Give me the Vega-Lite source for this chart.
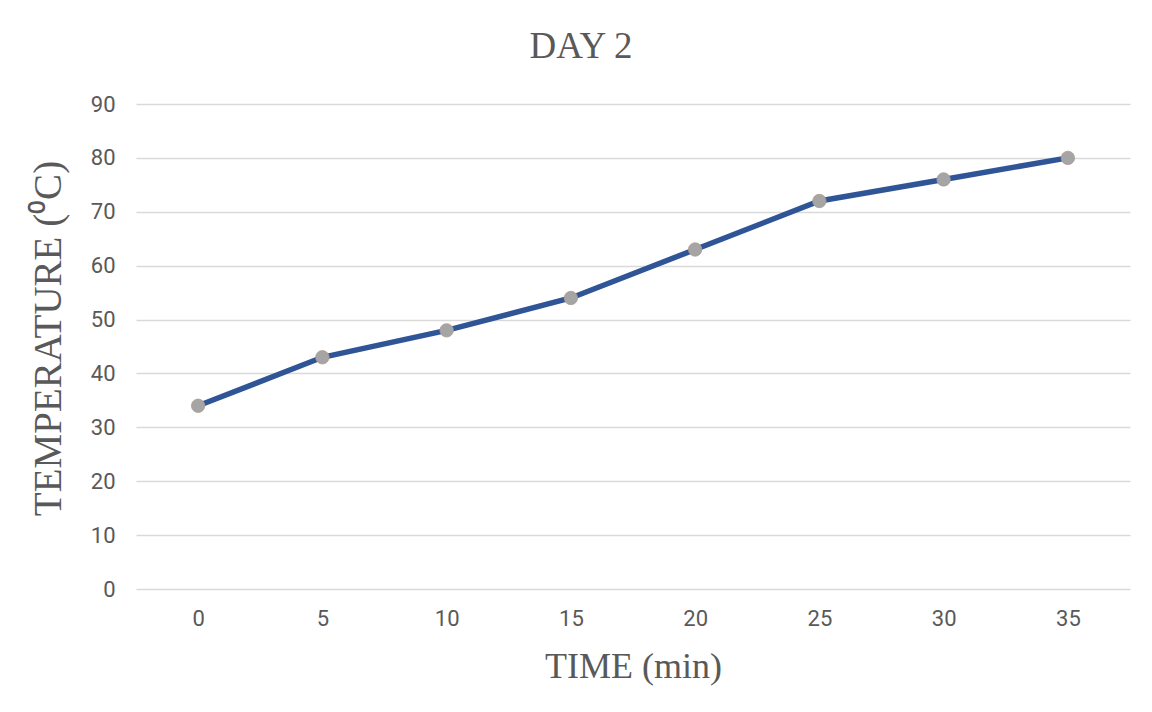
{
  "$schema": "https://vega.github.io/schema/vega-lite/v6.json",
  "autosize": {"type": "none"},
  "width": 994,
  "height": 485,
  "padding": {"left": 136, "top": 104, "right": 22, "bottom": 123},
  "background": "white",
  "title": {
    "text": "DAY 2",
    "font": "Liberation Serif",
    "fontSize": 37,
    "fontWeight": "normal",
    "color": "#595959",
    "anchor": "middle",
    "baseline": "bottom",
    "offset": 34,
    "dy": 44,
    "dx": -52
  },
  "data": {
    "values": [
      {"time": "0", "temp": 34},
      {"time": "5", "temp": 43},
      {"time": "10", "temp": 48},
      {"time": "15", "temp": 54},
      {"time": "20", "temp": 63},
      {"time": "25", "temp": 72},
      {"time": "30", "temp": 76},
      {"time": "35", "temp": 80}
    ]
  },
  "encoding": {
    "x": {
      "field": "time",
      "type": "ordinal",
      "sort": null,
      "scale": {"type": "point", "padding": 0.5},
      "axis": {
        "title": "TIME (min)",
        "labelAngle": 0,
        "labelFont": "Roboto",
        "labelFontSize": 22,
        "labelColor": "#595959",
        "labelPadding": 19,
        "ticks": false,
        "domain": false,
        "grid": false,
        "titleFont": "Liberation Serif",
        "titleFontSize": 36,
        "titleFontWeight": "normal",
        "titleColor": "#595959",
        "titleBaseline": "middle",
        "titleAnchor": "middle",
        "titleY": 77
      }
    },
    "y": {
      "field": "temp",
      "type": "quantitative",
      "scale": {"domain": [0, 90]},
      "axis": {
        "title": "TEMPERATURE (⁰C)",
        "values": [0, 10, 20, 30, 40, 50, 60, 70, 80, 90],
        "labelFont": "Roboto",
        "labelFontSize": 22,
        "labelColor": "#595959",
        "labelPadding": 21,
        "ticks": false,
        "domain": false,
        "grid": true,
        "gridColor": "#d9d9d9",
        "gridWidth": 1.3,
        "titleFont": "Liberation Serif",
        "titleFontSize": 39,
        "titleFontWeight": "normal",
        "titleColor": "#595959",
        "titleBaseline": "middle",
        "titleAngle": -90,
        "titleX": -88,
        "titleY": 234,
        "titleAnchor": "middle"
      }
    }
  },
  "layer": [
    {"mark": {"type": "line", "color": "#2f5597", "strokeWidth": 5.5}},
    {"mark": {"type": "point", "filled": true, "color": "#a5a5a5", "size": 180, "opacity": 1, "stroke": "#b09a8a", "strokeWidth": 0.8}}
  ],
  "config": {"view": {"stroke": null}}
}
